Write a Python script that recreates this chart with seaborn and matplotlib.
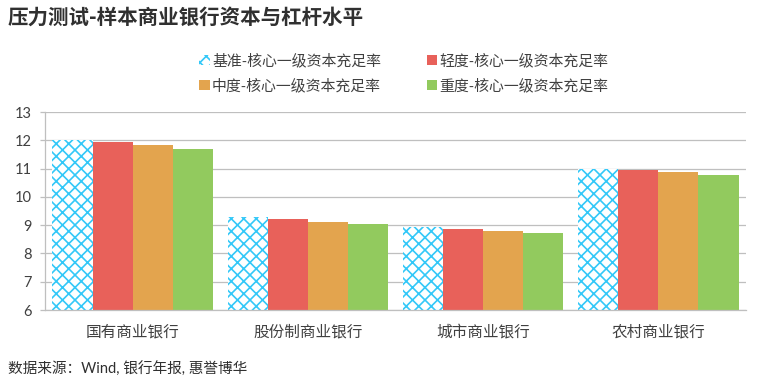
import matplotlib
matplotlib.use("Agg")
import matplotlib.pyplot as plt
import seaborn as sns
import pandas as pd

categories = ["国有商业银行", "股份制商业银行", "城市商业银行", "农村商业银行"]
series = ["基准-核心一级资本充足率", "轻度-核心一级资本充足率", "中度-核心一级资本充足率", "重度-核心一级资本充足率"]
base = [12.00, 9.28, 8.95, 11.00]
mild = [11.94, 9.20, 8.87, 10.94]
moderate = [11.83, 9.12, 8.80, 10.87]
severe = [11.69, 9.05, 8.73, 10.76]
yticks = [6, 7, 8, 9, 10, 11, 12, 13]
title = "压力测试-样本商业银行资本与杠杆水平"
source = "数据来源：Wind, 银行年报, 惠誉博华"

colors = ["#ffffff", "#E8615A", "#E3A44E", "#92CA5E"]
hatch_color = "#33C8F8"

rows = []
for s, vals in zip(series, [base, mild, moderate, severe]):
    for c, v in zip(categories, vals):
        rows.append({"cat": c, "series": s, "value": v})
df = pd.DataFrame(rows)

sns.set_theme(style="white")
plt.rcParams["font.family"] = ["Lato", "Noto Sans CJK SC", "DejaVu Sans"]
plt.rcParams["hatch.linewidth"] = 1.6

DPI = 75
fig = plt.figure(figsize=(768 / DPI, 380 / DPI), dpi=DPI)
ax = fig.add_axes([45 / 768, 1 - 310 / 380, 701 / 768, 198 / 380])

sns.barplot(data=df, x="cat", y="value", hue="series", palette=colors,
            width=0.915, gap=0, ax=ax, legend=False, saturation=1, linewidth=0)

for p in ax.containers[0]:
    p.set_facecolor("white")
    p.set_edgecolor(hatch_color)
    p.set_hatch("xx")
    p.set_linewidth(0)

ax.set_ylim(6, 13)
ax.set_yticks(yticks)
ax.set_xlim(-0.5, 3.5)
ax.yaxis.grid(True, color="#BFBFBF", linewidth=1.2)
ax.set_axisbelow(True)
for sp in ["top", "right"]:
    ax.spines[sp].set_visible(False)
for sp in ["left", "bottom"]:
    ax.spines[sp].set_color("#BFBFBF")
    ax.spines[sp].set_linewidth(1.2)
ax.tick_params(axis="y", left=True, length=5, width=1.2, color="#BFBFBF",
               labelsize=14, labelcolor="#404040", pad=8)
ax.tick_params(axis="x", bottom=False, labelsize=15, labelcolor="#404040", pad=8)
ax.set_xlabel("")
ax.set_ylabel("")

order = [0, 2, 1, 3]
handles = [ax.containers[i][0] for i in order]
labels = [series[i] for i in order]
fig.legend(handles, labels, ncol=2, loc="upper left", bbox_to_anchor=(186 / 768, 1 - 40 / 380),
           frameon=False, fontsize=14.3, handlelength=0.7, handleheight=0.7,
           handletextpad=0.15, columnspacing=3.05, labelspacing=0.68, labelcolor="#404040")

fig.text(8 / 768, 1 - 17 / 380, title, fontsize=19.7, fontweight="bold", color="#303030",
         va="center", ha="left", family=["Noto Sans CJK SC", "DejaVu Sans"])
fig.text(8 / 768, 1 - 369 / 380, source, fontsize=14.1, color="#303030",
         va="center", ha="left")

fig.savefig("out.png", dpi=DPI, facecolor="white")
